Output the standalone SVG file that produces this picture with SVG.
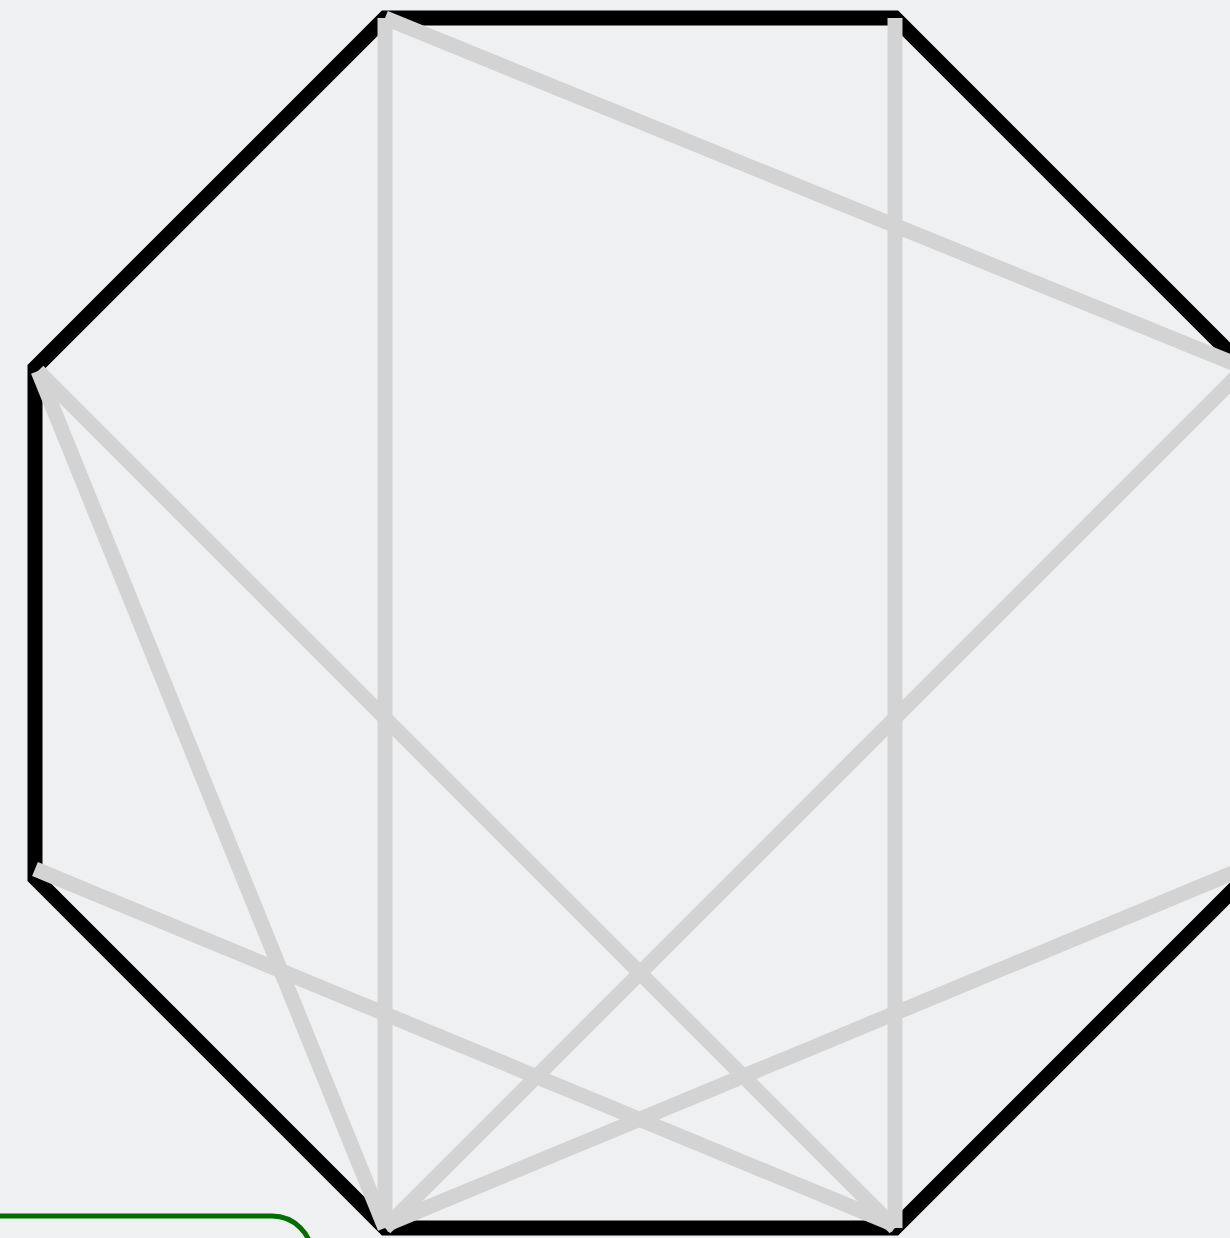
<svg xmlns="http://www.w3.org/2000/svg" width="1230" height="1238" viewBox="0 0 1230 1238">
  <style>
    .outline { fill: none; stroke: #000000; stroke-width: 15; stroke-linejoin: miter; }
    .chord { stroke: #d3d3d3; stroke-width: 15; stroke-linecap: butt; fill: none; }
    .frame { fill: none; stroke: #006f00; stroke-width: 5; }
  </style>
  <rect x="0" y="0" width="1230" height="1238" fill="#eff0f2"/>
  <g id="octagon">
    <polygon class="outline" points="385,18 895,18 1245,368 1245,878 895,1228 385,1228 35,878 35,368"/>
  </g>
  <g id="connectors">
    <line class="chord" x1="385" y1="18" x2="1245" y2="368"/>
    <line class="chord" x1="385" y1="18" x2="385" y2="1228"/>
    <line class="chord" x1="895" y1="18" x2="895" y2="1228"/>
    <line class="chord" x1="38" y1="371" x2="895" y2="1228"/>
    <line class="chord" x1="38" y1="371" x2="385" y2="1228"/>
    <line class="chord" x1="35" y1="869" x2="895" y2="1225"/>
    <line class="chord" x1="1245" y1="368" x2="385" y2="1228"/>
    <line class="chord" x1="1245" y1="868" x2="385" y2="1225"/>
  </g>
  <g id="panel">
    <path class="frame" d="M -10,1216 L 272,1216 A 40,40 0 0 1 312,1256"/>
  </g>
</svg>
